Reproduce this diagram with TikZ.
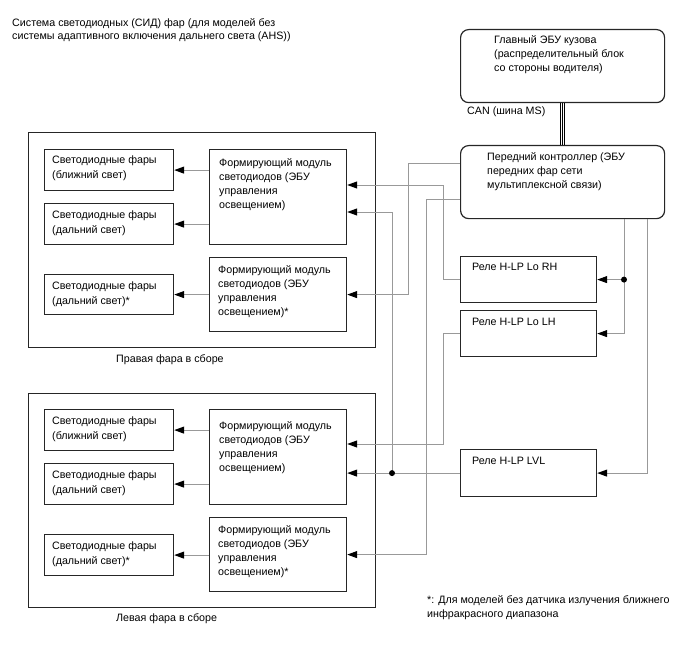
\documentclass[tikz,border=0pt]{standalone}
\usepackage{fontspec}
\setmainfont{Liberation Sans}
\usetikzlibrary{arrows.meta}
\begin{document}
\begin{tikzpicture}[x=1pt,y=-1pt,
  bx/.style={draw=black!85,line width=1.2pt,rectangle,anchor=north west,inner sep=0pt},
  rbx/.style={bx,rounded corners=8pt},
  txt/.style={anchor=north west,inner sep=0pt,align=left,font=\fontsize{10.7}{14.2}\selectfont},
  wire/.style={draw=black!40,line width=1pt},
  arr/.style={wire,-{Triangle[length=10pt,width=7pt,black]}},
  dot/.style={circle,fill=black,inner sep=0pt,minimum size=6pt}]
\useasboundingbox (0,0) rectangle (688,658);
% title
\node[txt,font=\fontsize{10.7}{13.5}\selectfont] (title) at (12,18) {Система светодиодных (СИД) фар (для моделей без\\системы адаптивного включения дальнего света (AHS))};
% top right
\node[rbx,minimum width=204pt,minimum height=73pt] (ecu) at (460,29) {};
\node[txt] (ecut) at (494,35) {Главный ЭБУ кузова\\(распределительный блок\\со стороны водителя)};
\node[rbx,minimum width=204pt,minimum height=73pt] (fc) at (460,145) {};
\node[txt] (fct) at (487,152) {Передний контроллер (ЭБУ\\передних фар сети\\мультиплексной связи)};
\node[txt] (canl) at (467,107) {CAN (шина MS)};
\coordinate (can1) at (560.3,0);
\coordinate (can2) at (562.6,0);
\coordinate (can3) at (564.9,0);
\foreach \c in {can1,can2,can3}{\draw[black,line width=1.1pt] (ecu.south -| \c) -- (fc.north -| \c);}
% relays
\node[bx,minimum width=136pt,minimum height=46pt] (rrh) at (460,256) {};
\node[txt] (rrht) at (472,263) {Реле H-LP Lo RH};
\node[bx,minimum width=136pt,minimum height=46pt] (rlh) at (460,310) {};
\node[txt] (rlht) at (472,318) {Реле H-LP Lo LH};
\node[bx,minimum width=136pt,minimum height=47pt] (lvl) at (460,449) {};
\node[txt] (lvlt) at (472,457) {Реле H-LP LVL};
% right headlamp
\node[bx,minimum width=347pt,minimum height=215pt] (rha) at (28,132) {};
\node[txt] (rhal) at (116,354) {Правая фара в сборе};
\node[bx,minimum width=129pt,minimum height=41pt] (rlow) at (44,149) {};
\node[txt] (rlowt) at (52,156) {Светодиодные фары\\(ближний свет)};
\node[bx,minimum width=129pt,minimum height=41pt] (rhigh) at (44,203) {};
\node[txt] (rhight) at (52,211) {Светодиодные фары\\(дальний свет)};
\node[bx,minimum width=129pt,minimum height=40pt] (rhs) at (44,274) {};
\node[txt] (rhst) at (52,282) {Светодиодные фары\\(дальний свет)*};
\node[bx,minimum width=137pt,minimum height=95pt] (rm1) at (209,149) {};
\node[txt] (rm1t) at (219,158) {Формирующий модуль\\светодиодов (ЭБУ\\управления\\освещением)};
\node[bx,minimum width=137pt,minimum height=74pt] (rm2) at (209,257) {};
\node[txt] (rm2t) at (218,265) {Формирующий модуль\\светодиодов (ЭБУ\\управления\\освещением)*};
% left headlamp
\node[bx,minimum width=347pt,minimum height=214pt] (lha) at (28,393) {};
\node[txt] (lhal) at (116,613) {Левая фара в сборе};
\node[bx,minimum width=129pt,minimum height=41pt] (llow) at (44,409) {};
\node[txt] (llowt) at (52,417) {Светодиодные фары\\(ближний свет)};
\node[bx,minimum width=129pt,minimum height=41pt] (lhigh) at (44,463) {};
\node[txt] (lhight) at (52,471) {Светодиодные фары\\(дальний свет)};
\node[bx,minimum width=129pt,minimum height=41pt] (lhs) at (44,534) {};
\node[txt] (lhst) at (52,542) {Светодиодные фары\\(дальний свет)*};
\node[bx,minimum width=137pt,minimum height=95pt] (lm1) at (209,409) {};
\node[txt] (lm1t) at (219,421) {Формирующий модуль\\светодиодов (ЭБУ\\управления\\освещением)};
\node[bx,minimum width=137pt,minimum height=74pt] (lm2) at (209,517) {};
\node[txt] (lm2t) at (218,525) {Формирующий модуль\\светодиодов (ЭБУ\\управления\\освещением)*};
% footnote
\node[txt] (foot) at (427,595) {*: Для моделей без датчика излучения ближнего\\инфракрасного диапазона};
% module -> LED
\draw[arr] (rm1.west |- rlow.east) -- (rlow.east);
\draw[arr] (rm1.west |- rhigh.east) -- (rhigh.east);
\draw[arr] (rm2.west |- rhs.east) -- (rhs.east);
\draw[arr] (lm1.west |- llow.east) -- (llow.east);
\draw[arr] (lm1.west |- lhigh.east) -- (lhigh.east);
\draw[arr] (lm2.west |- lhs.east) -- (lhs.east);
% wiring
\coordinate (j1) at (624,0);
\coordinate (c2) at (647,0);
\coordinate (c3) at (443,185);
\coordinate (c4) at (443,444);
\coordinate (c5) at (392,212);
\coordinate (c6) at (408,163);
\coordinate (c7) at (426,199);
\draw[arr] (fc.south -| j1) -- (j1 |- rrh.east) -- (rrh.east);
\draw[arr] (j1 |- rrh.east) -- (j1 |- rlh.east) -- (rlh.east);
\node[dot] (jd1) at (j1 |- rrh.east) {};
\draw[arr] (fc.south -| c2) -- (c2 |- lvl.east) -- (lvl.east);
\draw[arr] (rrh.west) -- (rrh.west -| c3) -- (c3) -- (c3 -| rm1.east);
\draw[arr] (rlh.west) -- (rlh.west -| c4) -- (c4) -- (c4 -| lm1.east);
\draw[arr] (lvl.west) -- (lvl.west -| lm1.east);
\draw[arr] (c5 |- lvl.west) -- (c5) -- (c5 -| rm1.east);
\node[dot] (jd2) at (c5 |- lvl.west) {};
\draw[arr] (fc.west |- c6) -- (c6) -- (c6 |- rm2.east) -- (rm2.east);
\draw[arr] (fc.west |- c7) -- (c7) -- (c7 |- lm2.east) -- (lm2.east);
\end{tikzpicture}
\end{document}
